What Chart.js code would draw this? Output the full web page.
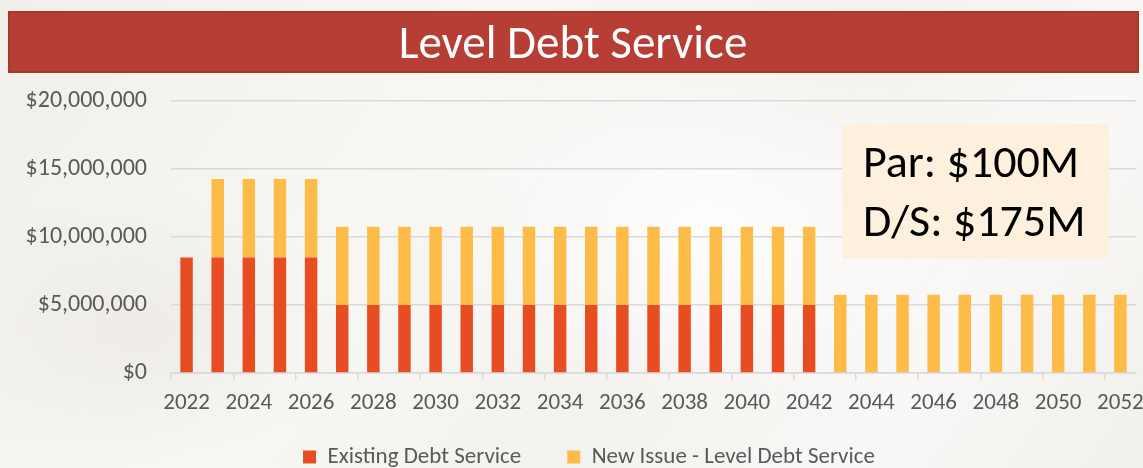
<!DOCTYPE html>
<html>
<head>
<meta charset="utf-8">
<script src="https://cdn.jsdelivr.net/npm/chart.js@4.4.1/dist/chart.umd.min.js"></script>
<style>
  html, body { margin: 0; padding: 0; }
  body {
    width: 1143px; height: 468px; overflow: hidden;
    background:
      radial-gradient(ellipse 420px 260px at 62% 48%, rgba(255,255,255,0.9), rgba(255,255,255,0) 70%),
      radial-gradient(ellipse 300px 200px at 12% 70%, rgba(236,233,229,0.8), rgba(236,233,229,0) 70%),
      linear-gradient(125deg, #f1efec 0%, #f8f7f4 35%, #f4f2ef 60%, #f9f8f6 80%, #f2f0ed 100%);
  }
  #wrap { position: relative; width: 1143px; height: 468px; }
</style>
</head>
<body>
<div id="wrap"><canvas id="chart"></canvas></div>
<script>
// Fiscal years on the horizontal axis
const years = ['2022','2023','2024','2025','2026','2027','2028','2029','2030','2031',
               '2032','2033','2034','2035','2036','2037','2038','2039','2040','2041',
               '2042','2043','2044','2045','2046','2047','2048','2049','2050','2051','2052'];

// Annual debt service on bonds already outstanding
const existingDebtService = [
  8500000, 8500000, 8500000, 8500000, 8500000,
  5000000, 5000000, 5000000, 5000000, 5000000, 5000000, 5000000, 5000000,
  5000000, 5000000, 5000000, 5000000, 5000000, 5000000, 5000000, 5000000,
  0, 0, 0, 0, 0, 0, 0, 0, 0, 0
];

// Annual debt service on the new issue, structured level
const newIssueDebtService = [
  0,
  5760000, 5760000, 5760000, 5760000, 5760000, 5760000, 5760000, 5760000,
  5760000, 5760000, 5760000, 5760000, 5760000, 5760000, 5760000, 5760000,
  5760000, 5760000, 5760000, 5760000, 5760000, 5760000, 5760000, 5760000,
  5760000, 5760000, 5760000, 5760000, 5760000, 5760000
];

// Value-axis ticks
const yTicks = [0, 5000000, 10000000, 15000000, 20000000];

const seriesNames = ['Existing Debt Service', 'New Issue - Level Debt Service'];
const titleText = 'Level Debt Service';
const calloutLines = ['Par: $100M', 'D/S: $175M'];

const FONT = 'Carlito, Calibri, Lato, sans-serif';
const GRID = '#d9d9d9';
const LABEL = '#595959';

// Pull the legend row up under the year labels and nudge it right of centre
const legendShift = {
  id: 'legendShift',
  afterLayout(chart) {
    const lg = chart.legend;
    if (lg) {
      lg.left += 21;
      lg.right += 21;
      lg.top -= 17.5;
      lg.bottom -= 17.5;
    }
  }
};

// Red banner with the title, plus the summary callout box
const decorations = {
  id: 'decorations',
  afterDraw(chart) {
    const ctx = chart.ctx;
    const ca = chart.chartArea;
    ctx.save();
    // banner
    ctx.fillStyle = '#b73e35';
    ctx.fillRect(8, 11, 1131, 62);
    ctx.strokeStyle = '#a83823';
    ctx.lineWidth = 2;
    ctx.strokeRect(9, 12, 1129, 60);
    ctx.fillStyle = '#ffffff';
    ctx.font = '47px ' + FONT;
    ctx.textAlign = 'center';
    ctx.textBaseline = 'alphabetic';
    ctx.fillText(titleText, 573, 58);

    // callout
    const bx = ca.right - 294, by = ca.top + 23;
    ctx.fillStyle = '#fdf0dc';
    ctx.fillRect(bx, by, 267, 135);
    ctx.fillStyle = '#000000';
    ctx.font = '46px ' + FONT;
    ctx.textAlign = 'left';
    ctx.fillText(calloutLines[0], bx + 21, by + 53);
    ctx.fillText(calloutLines[1], bx + 21, by + 112);
    ctx.restore();
  }
};

new Chart(document.getElementById('chart'), {
  type: 'bar',
  data: {
    labels: years,
    datasets: [
      {
        label: seriesNames[0],
        data: existingDebtService,
        backgroundColor: '#e84c22',
        categoryPercentage: 1,
        barPercentage: 0.4
      },
      {
        label: seriesNames[1],
        data: newIssueDebtService,
        backgroundColor: '#fdbb48',
        categoryPercentage: 1,
        barPercentage: 0.4
      }
    ]
  },
  options: {
    responsive: true,
    maintainAspectRatio: false,
    animation: false,
    layout: { padding: { left: 0, right: 7, top: 101, bottom: -28 } },
    plugins: {
      title: { display: false },
      tooltip: { enabled: false },
      legend: {
        position: 'bottom',
        labels: {
          boxWidth: 13,
          boxHeight: 13,
          padding: 46,
          color: LABEL,
          font: { family: FONT, size: 23 }
        }
      }
    },
    scales: {
      x: {
        stacked: true,
        offset: true,
        border: { display: true, color: GRID, width: 1.5 },
        grid: {
          offset: true,
          drawOnChartArea: false,
          drawTicks: true,
          tickLength: 7,
          lineWidth: 1.5,
          color: (c) => (c.index % 2 === 0 ? GRID : 'rgba(0,0,0,0)')
        },
        ticks: {
          autoSkip: false,
          maxRotation: 0,
          minRotation: 0,
          padding: 9,
          color: LABEL,
          font: { family: FONT, size: 23 },
          callback: (v, i) => (i % 2 === 0 ? years[i] : '')
        },
        afterFit(scale) {
          scale.height = 44;
          scale.paddingLeft = 0;
          scale.paddingRight = 0;
        }
      },
      y: {
        stacked: true,
        min: yTicks[0],
        max: yTicks[yTicks.length - 1],
        border: { display: false },
        grid: { color: GRID, lineWidth: 1.5, drawTicks: false },
        afterBuildTicks(scale) { scale.ticks = yTicks.map(v => ({ value: v })); },
        ticks: {
          padding: 24,
          color: LABEL,
          font: { family: FONT, size: 24 },
          callback: (v) => '$' + Number(v).toLocaleString('en-US')
        },
        afterFit(scale) {
          scale.width = 171;
          scale.paddingTop = 0;
          scale.paddingBottom = 0;
        }
      }
    }
  },
  plugins: [legendShift, decorations]
});
</script>
</body>
</html>
